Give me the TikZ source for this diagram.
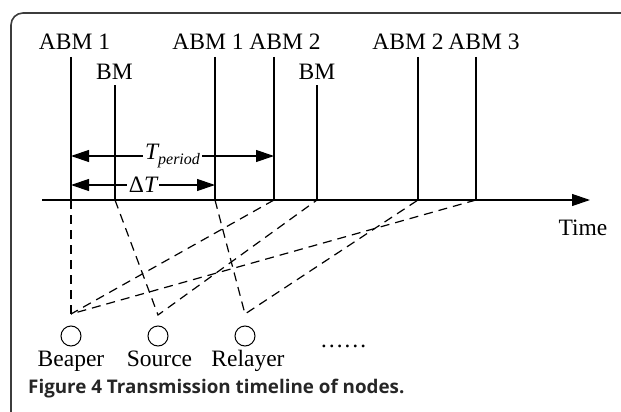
\documentclass[tikz,border=0pt]{standalone}
\usepackage{fontspec}
\setmainfont{Liberation Serif}
\newfontfamily\capfont{Open Sans}
\usetikzlibrary{arrows.meta}
\definecolor{framegray}{RGB}{60,60,60}
\begin{document}
\begin{tikzpicture}[x=1pt,y=-1pt,
  lbl/.style={anchor=base,inner sep=0pt,font=\fontsize{23.5}{25}\selectfont},
  tick/.style={line width=1.2pt},
  dsh/.style={line width=1.2pt,dash pattern=on 9pt off 6pt},
  dim/.style={line width=1.2pt,{Triangle[length=18pt,width=12pt]}-{Triangle[length=18pt,width=12pt]}},
  nodecirc/.style={circle,draw,line width=1pt,minimum size=20pt,inner sep=0pt}]
\useasboundingbox (0,0) rectangle (621,412);
% frame
\draw[framegray,line width=1.6pt] (11,420) -- (11,25) arc[start angle=180,end angle=270,radius=12] -- (630,13);
% timeline axis
\coordinate (ax0) at (42,200);
\coordinate (ax1) at (590,200);
\draw[line width=1.2pt,-{Triangle[length=18pt,width=12pt]}] (ax0) -- (ax1);
% vertical tick lines
\foreach \n/\x/\t in {a/71/57, b/115/85, c/215/57, d/274/57, e/317/85, f/418/57, g/476/57}{
  \coordinate (\n top) at (\x,\t);
  \coordinate (\n bot) at (\x,200);
  \draw[tick] (\n top) -- (\n bot);
}
% labels
\node[lbl] (l1) at (74.5,50) {ABM 1};
\node[lbl] (l2) at (114.5,79) {BM};
\node[lbl] (l3) at (208,50) {ABM 1};
\node[lbl] (l4) at (285,50) {ABM 2};
\node[lbl] (l5) at (317,79) {BM};
\node[lbl] (l6) at (408,50) {ABM 2};
\node[lbl] (l7) at (484,50) {ABM 3};
\node[lbl] (time) at (583,235) {Time};
% dimension arrows
\coordinate (tp0) at (71,156); \coordinate (tp1) at (274,156);
\draw[dim] (tp0) -- node[fill=white,inner sep=2.5pt,font=\fontsize{23.5}{25}\selectfont] (tper) {\itshape T\raisebox{-0.45ex}{\fontsize{16}{17}\selectfont\itshape period}} (tp1);
\coordinate (dt0) at (71,185); \coordinate (dt1) at (215,185);
\draw[dim] (dt0) -- node[fill=white,inner sep=2pt,font=\fontsize{23.5}{25}\selectfont] (dlt) {Δ\itshape T} (dt1);
% node circles
\node[nodecirc] (beaper) at (71,336) {};
\node[nodecirc] (source) at (158,336) {};
\node[nodecirc] (relayer) at (245,336) {};
\node[lbl] (bl) at (71,366) {Beaper};
\node[lbl] (sl) at (159.5,366) {Source};
\node[lbl] (rl) at (248,366) {Relayer};
\node[lbl] (dots) at (343.5,347) {……};
% dashed transmission lines
\coordinate (pb) at (71,314);
\coordinate (ps) at (158,315);
\coordinate (pr) at (245,314);
\draw[dsh] (abot) -- (pb);
\draw[dsh] (dbot) -- (pb);
\draw[dsh] (gbot) -- (pb);
\draw[dsh] (bbot) -- (ps) -- (ebot);
\draw[dsh] (cbot) -- (pr) -- (fbot);
% caption
\node[anchor=base west,inner sep=0pt,font=\capfont\bfseries\fontsize{18.8}{20}\selectfont,text=black!85] (cap) at (28,393) {Figure 4 Transmission timeline of nodes.};
\end{tikzpicture}
\end{document}
